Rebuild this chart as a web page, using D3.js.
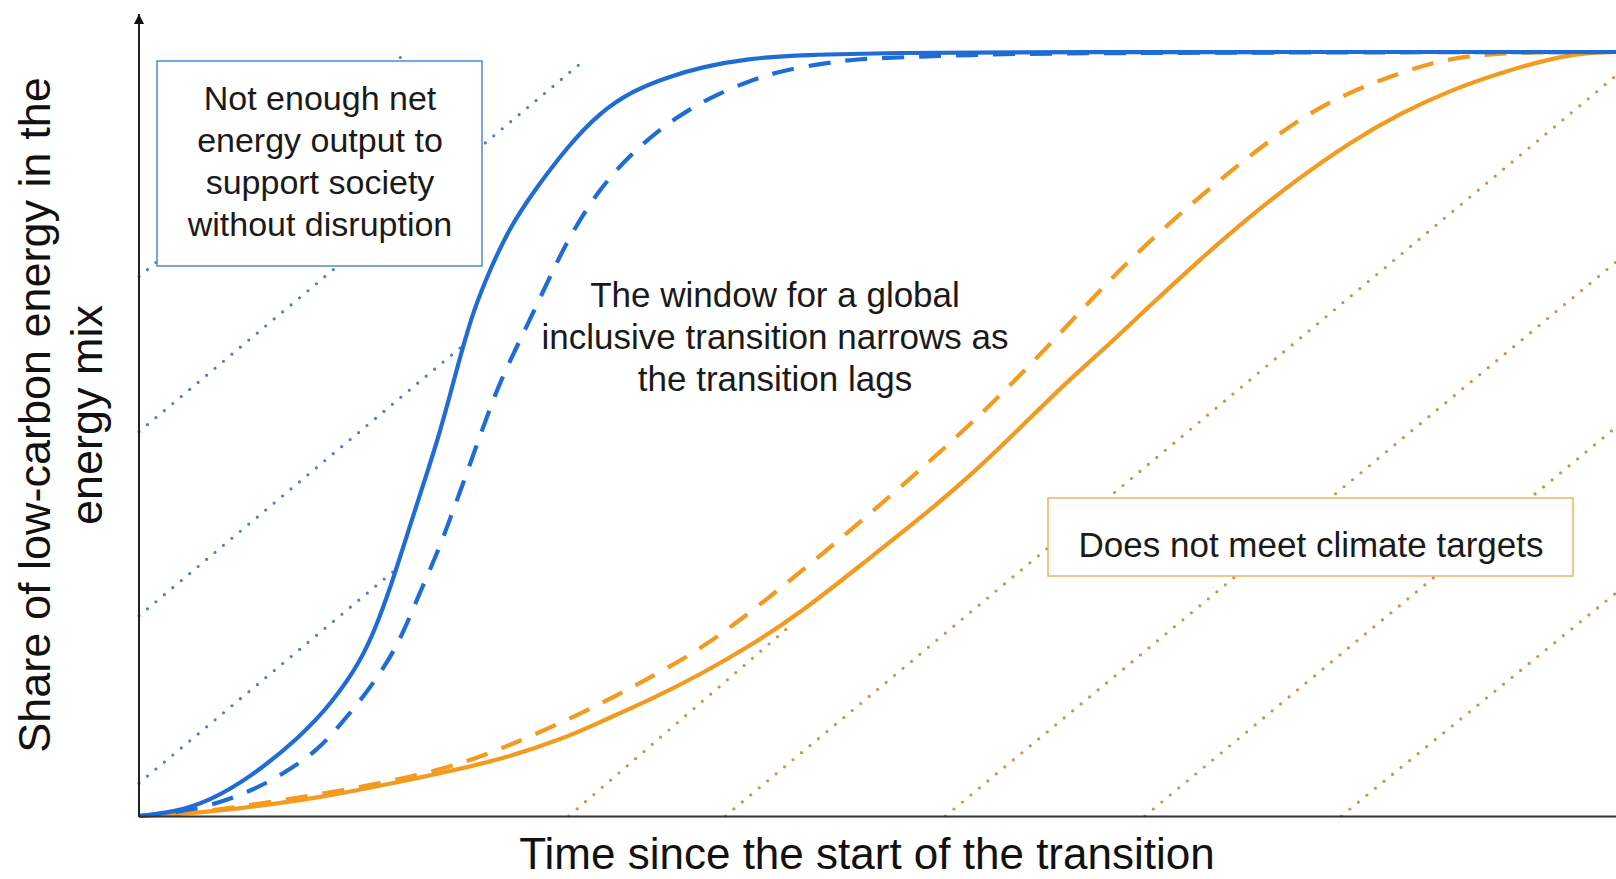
<!DOCTYPE html>
<html>
<head>
<meta charset="utf-8">
<script src="https://cdn.jsdelivr.net/npm/d3@7"></script>
<style>
  html, body { margin: 0; padding: 0; background: #fff; }
  svg { display: block; font-family: "Liberation Sans", Arial, sans-serif; }
</style>
</head>
<body>
<svg id="chart" width="1616" height="879"></svg>
<script>
// time since start of transition (arbitrary units 0-100) vs share of low-carbon energy (%)
const blueSolidTime = [0, 2.4, 4.8, 7.5, 10.9, 13.1, 15.0, 16.1, 17.0, 18.1, 19.2, 20.4, 21.5, 22.6, 23.8, 25.1, 26.7, 29.0, 31.2, 33.5, 35.8, 38.0, 41.4, 44.8, 51.5, 58.3, 100];
const blueSolidShare = [0, 0.5, 2.0, 5.0, 10.3, 14.9, 20.2, 25.0, 29.8, 36.5, 43.1, 50.3, 58.4, 66.0, 71.7, 77.0, 81.7, 87.6, 92.1, 95.0, 96.7, 98.0, 99.2, 99.6, 99.9, 100, 100];

const blueDashTime = [0, 4.1, 7.7, 10.0, 12.1, 13.6, 15.2, 16.8, 17.9, 19.0, 20.2, 21.1, 22.2, 23.3, 24.4, 25.8, 27.4, 29.0, 31.2, 33.9, 36.4, 38.7, 41.4, 43.6, 46.6, 48.8, 51.5, 56.1, 61.7, 100];
const blueDashShare = [0, 0.8, 3.3, 5.8, 8.6, 11.9, 15.6, 20.0, 24.0, 29.2, 34.4, 39.1, 44.9, 50.9, 56.7, 62.3, 68.8, 75.4, 82.3, 87.8, 91.5, 94.1, 96.3, 97.6, 98.6, 99.1, 99.3, 99.6, 99.9, 100];

const orangeSolidTime = [0, 4.1, 8.2, 13.1, 17.7, 19.9, 24.4, 29.0, 31.2, 34.6, 38.0, 41.4, 44.8, 49.3, 52.9, 56.1, 59.5, 62.8, 65.1, 68.5, 71.8, 75.2, 78.6, 82.0, 85.4, 88.8, 92.2, 95.5, 97.9, 100];
const orangeSolidShare = [0, 0.4, 1.3, 2.7, 4.5, 5.4, 7.3, 10.3, 12.3, 15.2, 18.5, 22.3, 26.6, 33.5, 39.0, 44.2, 50.5, 56.8, 60.7, 66.9, 72.8, 78.5, 83.6, 88.2, 92.0, 95.0, 97.3, 99.1, 99.9, 100];

const orangeDashTime = [0, 4.1, 8.2, 13.1, 19.9, 24.4, 30.1, 33.9, 38.0, 42.5, 47.0, 51.5, 56.1, 58.8, 62.4, 65.7, 69.6, 74.1, 78.6, 82.0, 85.4, 87.6, 89.9, 93.5, 100];
const orangeDashShare = [0, 0.5, 1.6, 3.1, 5.6, 8.6, 13.5, 17.4, 21.7, 28.3, 35.5, 42.9, 50.9, 56.0, 63.2, 70.2, 77.4, 84.8, 91.4, 94.8, 97.3, 98.6, 99.5, 100, 100];

// dotted guide lines: [startTime, startShare, endTime, endShare]
const blueGuides = [
  [0, 70.6, 17.7, 99.3],
  [0, 50.3, 30.2, 99.0],
  [0, 26.2, 22.0, 61.7],
  [0, 4.3, 17.4, 32.3]
];
const orangeGuides = [
  [29.1, 0, 44.1, 24.9],
  [39.7, 0, 100, 96.9],
  [54.6, 0, 100, 72.5],
  [68.1, 0, 100, 50.9],
  [81.4, 0, 100, 29.2]
];

const leftBoxLines = ["Not enough net", "energy output to", "support society", "without disruption"];
const middleLines = ["The window for a global", "inclusive transition narrows as", "the transition lags"];
const rightBoxLines = ["Does not meet climate targets"];
const xTitle = "Time since the start of the transition";
const yTitleLines = ["Share of low-carbon energy in the", "energy mix"];

const BLUE = "#1f6cd6";
const ORANGE = "#f39a1f";

const svg = d3.select("#chart");

const x = d3.scaleLinear().domain([0, 100]).range([139, 1616]);
const y = d3.scaleLinear().domain([0, 100]).range([816, 52]);

const zip = (ts, ss) => ts.map((t, i) => ({ t, s: ss[i] }));
const line = d3.line()
    .x(d => x(d.t))
    .y(d => y(d.s))
    .curve(d3.curveBasis);

// Dotted guides
const drawGuides = (rows, color) => {
    svg.append("g")
        .selectAll("line")
        .data(rows)
        .enter()
        .append("line")
        .attr("x1", d => x(d[0]))
        .attr("y1", d => y(d[1]))
        .attr("x2", d => x(d[2]))
        .attr("y2", d => y(d[3]))
        .attr("stroke", color)
        .attr("stroke-width", 3.2)
        .attr("stroke-linecap", "round")
        .attr("stroke-dasharray", "0 11");
};
drawGuides(blueGuides, "#4f7fc4");
drawGuides(orangeGuides, "#d0933e");

// Curves
const series = [
    { data: zip(orangeDashTime, orangeDashShare), color: ORANGE, dash: "22 15" },
    { data: zip(orangeSolidTime, orangeSolidShare), color: ORANGE, dash: null },
    { data: zip(blueDashTime, blueDashShare), color: BLUE, dash: "22 15" },
    { data: zip(blueSolidTime, blueSolidShare), color: BLUE, dash: null }
];
svg.append("g")
    .selectAll("path")
    .data(series)
    .enter()
    .append("path")
    .attr("d", d => line(d.data))
    .attr("fill", "none")
    .attr("stroke", d => d.color)
    .attr("stroke-width", 4.2)
    .attr("stroke-dasharray", d => d.dash);

// Axes
const defs = svg.append("defs");
defs.append("marker")
    .attr("id", "arrow")
    .attr("viewBox", "0 0 10 10")
    .attr("refX", 10)
    .attr("refY", 5)
    .attr("markerWidth", 11)
    .attr("markerHeight", 10)
    .attr("markerUnits", "userSpaceOnUse")
    .attr("orient", "auto")
    .append("path")
    .attr("d", "M0,0L10,5L0,10z")
    .attr("fill", "#111");

const xAxis = svg.append("g")
    .attr("transform", `translate(0,${y(0)})`)
    .call(d3.axisBottom(x).tickValues([]).tickSizeOuter(0));
xAxis.select(".domain").attr("stroke", "#333").attr("stroke-width", 2);

svg.append("line")
    .attr("x1", x(0))
    .attr("x2", x(0))
    .attr("y1", y(0) + 1)
    .attr("y2", 14)
    .attr("stroke", "#222")
    .attr("stroke-width", 2)
    .attr("marker-end", "url(#arrow)");

// Annotation boxes
const textBlock = (g, lines, cx, firstBaseline, step, size) => {
    g.selectAll(null)
        .data(lines)
        .enter()
        .append("text")
        .attr("x", cx)
        .attr("y", (d, i) => firstBaseline + i * step)
        .attr("text-anchor", "middle")
        .attr("font-size", size)
        .attr("fill", "#1a1a1a")
        .text(d => d);
};

const leftBox = svg.append("g");
leftBox.append("rect")
    .attr("x", 157).attr("y", 61)
    .attr("width", 325).attr("height", 205)
    .attr("fill", "#fff")
    .attr("stroke", "#4f8bd1")
    .attr("stroke-width", 1.5);
textBlock(leftBox, leftBoxLines, 320, 110, 42, 34);

const rightBox = svg.append("g");
rightBox.append("rect")
    .attr("x", 1048).attr("y", 498)
    .attr("width", 525).attr("height", 78)
    .attr("fill", "#fff")
    .attr("stroke", "#f4b163")
    .attr("stroke-width", 1.5);
textBlock(rightBox, rightBoxLines, 1311, 557, 42, 35);

textBlock(svg.append("g"), middleLines, 775, 307, 42, 35);

// Axis titles
svg.append("text")
    .attr("x", 867)
    .attr("y", 869)
    .attr("text-anchor", "middle")
    .attr("font-size", 44)
    .attr("fill", "#111")
    .text(xTitle);

svg.append("g")
    .attr("transform", "translate(0,415) rotate(-90)")
    .selectAll("text")
    .data(yTitleLines)
    .enter()
    .append("text")
    .attr("x", 0)
    .attr("y", (d, i) => 50 + i * 52)
    .attr("text-anchor", "middle")
    .attr("font-size", 45)
    .attr("fill", "#111")
    .text(d => d);
</script>
</body>
</html>
